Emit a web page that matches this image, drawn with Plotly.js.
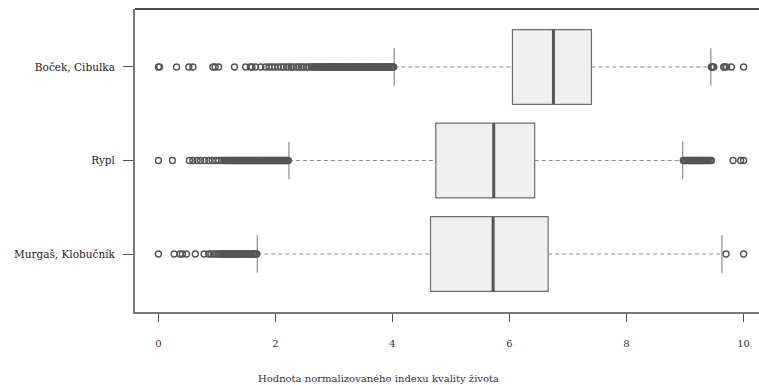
<!DOCTYPE html>
<html>
<head>
<meta charset="utf-8">
<script src="https://cdn.plot.ly/plotly-3.0.1.min.js"></script>
<style>
html,body{margin:0;padding:0;overflow:hidden;background:#fff;}
#chart{width:770px;height:385px;}
</style>
</head>
<body>
<div id="chart"></div>
<script>
// Groups (bottom to top, R boxplot order)
const groups = ["Murgaš, Klobučník", "Rypl", "Boček, Cibulka"];
const positions = [1, 2, 3];

// Box statistics
const q1 = [4.65, 4.74, 6.05];
const median = [5.72, 5.73, 6.75];
const q3 = [6.66, 6.43, 7.40];
const whiskerLow = [1.69, 2.23, 4.03];
const whiskerHigh = [9.63, 8.96, 9.44];

// Outliers per group
const outMurgas = [0, 0.27, 0.37, 0.41, 0.48, 0.63, 0.78, 0.86, 0.90, 0.94, 0.98, 1.02, 1.05, 1.08,
  1.10, 1.12, 1.14, 1.16, 1.18, 1.20, 1.22, 1.24, 1.26, 1.28, 1.30, 1.32, 1.34, 1.36, 1.38, 1.40,
  1.42, 1.44, 1.46, 1.48, 1.50, 1.52, 1.54, 1.56, 1.58, 1.60, 1.62, 1.64, 1.66, 1.68,
  9.70, 10.0];
const outRypl = [0, 0.24, 0.53, 0.59, 0.66, 0.72, 0.79, 0.86, 0.92, 0.98, 1.03, 1.08, 1.12,
  1.14, 1.16, 1.18, 1.20, 1.22, 1.24, 1.26, 1.28, 1.30, 1.32, 1.34, 1.36, 1.38, 1.40, 1.42, 1.44,
  1.46, 1.48, 1.50, 1.52, 1.54, 1.56, 1.58, 1.60, 1.62, 1.64, 1.66, 1.68, 1.70, 1.72, 1.74, 1.76,
  1.78, 1.80, 1.82, 1.84, 1.86, 1.88, 1.90, 1.92, 1.94, 1.96, 1.98, 2.00, 2.02, 2.04, 2.06, 2.08,
  2.10, 2.12, 2.14, 2.16, 2.18, 2.20, 2.22,
  8.97, 8.99, 9.01, 9.03, 9.05, 9.07, 9.09, 9.11, 9.13, 9.15, 9.17, 9.19, 9.21, 9.23, 9.25, 9.27,
  9.29, 9.31, 9.33, 9.35, 9.37, 9.39, 9.41, 9.43, 9.45,
  9.82, 9.95, 10.0];
const outBocek = [0, 0.02, 0.31, 0.52, 0.59, 0.93, 0.97, 1.03, 1.30, 1.49, 1.57, 1.60, 1.66, 1.75,
  1.83, 1.89, 1.94, 1.99, 2.05, 2.10, 2.14, 2.19, 2.23, 2.27, 2.31, 2.36, 2.40, 2.44, 2.48, 2.53,
  2.57, 2.61,
  2.64, 2.66, 2.68, 2.70, 2.72, 2.74, 2.76, 2.78, 2.80, 2.82, 2.84, 2.86, 2.88, 2.90, 2.92, 2.94,
  2.96, 2.98, 3.00, 3.02, 3.04, 3.06, 3.08, 3.10, 3.12, 3.14, 3.16, 3.18, 3.20, 3.22, 3.24, 3.26,
  3.28, 3.30, 3.32, 3.34, 3.36, 3.38, 3.40, 3.42, 3.44, 3.46, 3.48, 3.50, 3.52, 3.54, 3.56, 3.58,
  3.60, 3.62, 3.64, 3.66, 3.68, 3.70, 3.72, 3.74, 3.76, 3.78, 3.80, 3.82, 3.84, 3.86, 3.88, 3.90,
  3.92, 3.94, 3.96, 3.98, 4.00, 4.02,
  9.45, 9.47, 9.49, 9.66, 9.68, 9.71, 9.79, 10.0];
const outliers = [outMurgas, outRypl, outBocek];

// Axis ticks
const xTicks = [0, 2, 4, 6, 8, 10];
const xTitle = "Hodnota normalizovaného indexu kvality života";

const boxWidth = 0.8;
const stapleHalf = 0.2;
const font = "DejaVu Serif, Liberation Serif, serif";

const traces = [];

// Boxes
traces.push({
  type: "box", orientation: "h",
  y: positions, q1: q1, median: median, q3: q3,
  lowerfence: q1, upperfence: q3,
  width: boxWidth, boxpoints: false,
  fillcolor: "#f0f0f0",
  line: {color: "#6e6e6e", width: 1.2},
  whiskerwidth: 0, hoverinfo: "skip", showlegend: false
});

// Whiskers (dashed), staples, medians
const wx = [], wy = [], sx = [], sy = [], mx = [], my = [];
positions.forEach((p, i) => {
  wx.push(q3[i], whiskerHigh[i], null, whiskerLow[i], q1[i], null);
  wy.push(p, p, null, p, p, null);
  sx.push(whiskerHigh[i], whiskerHigh[i], null, whiskerLow[i], whiskerLow[i], null);
  sy.push(p - stapleHalf, p + stapleHalf, null, p - stapleHalf, p + stapleHalf, null);
  mx.push(median[i], median[i], null);
  my.push(p - boxWidth / 2, p + boxWidth / 2, null);
});
traces.push({type: "scatter", mode: "lines", x: wx, y: wy,
  line: {color: "#8c8c8c", width: 1.2, dash: "4px,3px"}, hoverinfo: "skip", showlegend: false});
traces.push({type: "scatter", mode: "lines", x: sx, y: sy,
  line: {color: "#8c8c8c", width: 1.2}, hoverinfo: "skip", showlegend: false});
traces.push({type: "scatter", mode: "lines", x: mx, y: my,
  line: {color: "#555555", width: 3}, hoverinfo: "skip", showlegend: false});

// Outliers
positions.forEach((p, i) => {
  traces.push({type: "scatter", mode: "markers",
    x: outliers[i], y: outliers[i].map(() => p),
    marker: {symbol: "circle-open", size: 6, color: "#555555", line: {width: 1.4, color: "#555555"}},
    hoverinfo: "skip", showlegend: false});
});

const layout = {
  width: 770, height: 385,
  margin: {l: 135, r: 3, t: 9, b: 73},
  paper_bgcolor: "#ffffff", plot_bgcolor: "#ffffff",
  showlegend: false,
  font: {family: font, color: "#333333"},
  xaxis: {
    range: [-0.4, 10.4], tickvals: xTicks, ticktext: xTicks.map(String),
    showgrid: false, zeroline: false,
    showline: true, linecolor: "#777777", linewidth: 2,
    ticks: "outside", ticklen: 8, tickcolor: "#555555", tickwidth: 1,
    ticklabelstandoff: 13,
    tickfont: {family: font, size: 10, color: "#333333"}
  },
  yaxis: {
    range: [0.38, 3.62], tickvals: positions, ticktext: groups,
    showgrid: false, zeroline: false,
    showline: true, linecolor: "#777777", linewidth: 2,
    ticks: "outside", ticklen: 10, tickcolor: "#555555", tickwidth: 1,
    ticklabelstandoff: 6,
    tickfont: {family: font, size: 10.5, color: "#222222"}
  },
  shapes: [{type: "line", xref: "paper", yref: "paper", x0: 0, x1: 1, y0: 1, y1: 1,
    line: {color: "#111111", width: 1.5}}],
  annotations: [{text: xTitle, xref: "paper", yref: "paper",
    x: (378 - 135) / 632, y: 0, yshift: -66, xanchor: "center", yanchor: "middle",
    showarrow: false, font: {family: font, size: 10, color: "#333333"}}]
};

Plotly.newPlot("chart", traces, layout, {displayModeBar: false, staticPlot: true});
</script>
</body>
</html>
